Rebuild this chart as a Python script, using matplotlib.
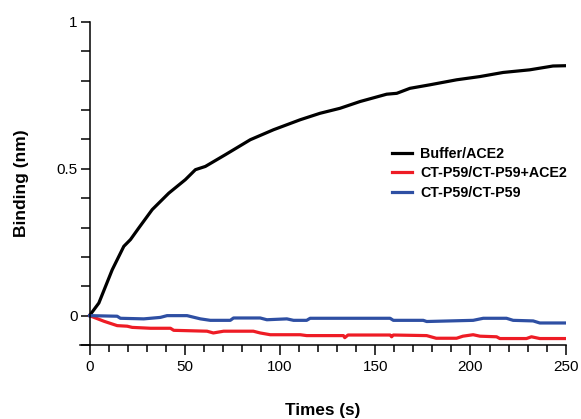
import numpy as np
import matplotlib
matplotlib.use("Agg")
import matplotlib.pyplot as plt
from matplotlib.ticker import MultipleLocator

plt.rcParams['font.family'] = ['Liberation Sans', 'DejaVu Sans']

# Buffer/ACE2 association curve
t_buffer = [0, 4.9, 11.9, 18.0, 21.5, 25.8, 32.9, 41.6, 50.3, 55.6, 60.8, 71.3,
            84.4, 96.6, 110.6, 121, 131.5, 142, 156, 161.3, 168.2, 178.7,
            192.7, 204.9, 217.1, 231.1, 243.3, 250]
y_buffer = [0, 0.043, 0.156, 0.236, 0.259, 0.298, 0.361, 0.417, 0.463, 0.497,
            0.508, 0.548, 0.599, 0.633, 0.667, 0.689, 0.706, 0.729, 0.754,
            0.757, 0.774, 0.786, 0.803, 0.814, 0.828, 0.837, 0.850, 0.851]

# CT-P59/CT-P59+ACE2
t_red = [0, 7.5, 14.5, 19.8, 22.4, 32, 42.5, 44.2, 61.7, 65, 70.4, 86, 89.6,
         94.9, 110.6, 114, 133.3, 134, 135.7, 157.8, 158.6, 159.5, 177, 182,
         192.7, 196, 201.4, 205, 213.7, 215.4, 229.4, 232, 236.4, 250]
y_red = [0, -0.019, -0.034, -0.036, -0.040, -0.043, -0.043, -0.050, -0.053,
         -0.059, -0.053, -0.053, -0.059, -0.065, -0.065, -0.068, -0.068, -0.075,
         -0.066, -0.066, -0.072, -0.066, -0.068, -0.077, -0.077, -0.070, -0.065,
         -0.070, -0.072, -0.078, -0.078, -0.072, -0.078, -0.078]

# CT-P59/CT-P59
t_blue = [0, 14.5, 16.2, 28.5, 37.2, 40.7, 51.2, 58.2, 63.4, 73.9, 75.6, 89.6,
          93.1, 103.6, 107.1, 114, 115.8, 157.8, 159.5, 175.2, 177, 201.4,
          206.7, 218.9, 222.4, 232.9, 236.4, 250]
y_blue = [0, -0.002, -0.009, -0.011, -0.006, 0, 0, -0.011, -0.016, -0.016,
          -0.008, -0.008, -0.014, -0.011, -0.016, -0.016, -0.009, -0.009,
          -0.016, -0.016, -0.020, -0.016, -0.009, -0.009, -0.016, -0.018,
          -0.025, -0.025]

fig = plt.figure(figsize=(5.81, 4.19), dpi=100)
ax = fig.add_axes([0.1377, 0.1766, 0.836, 0.771])

ax.plot(t_buffer, y_buffer, color='black', lw=2.3, label='Buffer/ACE2')
ax.plot(t_red, y_red, color='#ee1c25', lw=2.3, label='CT-P59/CT-P59+ACE2')
ax.plot(t_blue, y_blue, color='#2e4fa3', lw=2.3, label='CT-P59/CT-P59')

ax.set_xlim(-5, 250)
ax.set_ylim(-0.1, 1)
ax.spines['top'].set_visible(False)
ax.spines['right'].set_visible(False)
ax.spines['left'].set_position(('data', 0))
ax.spines['left'].set_bounds(-0.1, 1)
for s in ['left', 'bottom']:
    ax.spines[s].set_linewidth(1.1)

ax.xaxis.set_major_locator(MultipleLocator(50))
ax.xaxis.set_minor_locator(MultipleLocator(10))
ax.yaxis.set_major_locator(MultipleLocator(0.5))
ax.yaxis.set_minor_locator(MultipleLocator(0.1))
ax.set_yticks([0, 0.5, 1])
ax.set_yticklabels(['0', '0.5', '1'])
ax.tick_params(axis='x', which='major', length=7.5, width=1.1, labelsize=11, pad=3)
ax.tick_params(axis='x', which='minor', length=5, width=1.1)
ax.tick_params(axis='y', which='both', length=6.5, width=1.1, labelsize=11, pad=2)

ax.set_xlabel('Times (s)', fontsize=12.3, fontweight='bold', labelpad=21)
ax.set_ylabel('Binding (nm)', fontsize=12.5, fontweight='bold', labelpad=20)

ax.legend(loc='upper left', bbox_to_anchor=(0.642, 0.613), frameon=False,
          prop={'size': 10.3, 'weight': 'bold'}, handlelength=1.4,
          handletextpad=0.6, labelspacing=0.38, borderpad=0, borderaxespad=0)

fig.savefig('out.png', dpi=100)
